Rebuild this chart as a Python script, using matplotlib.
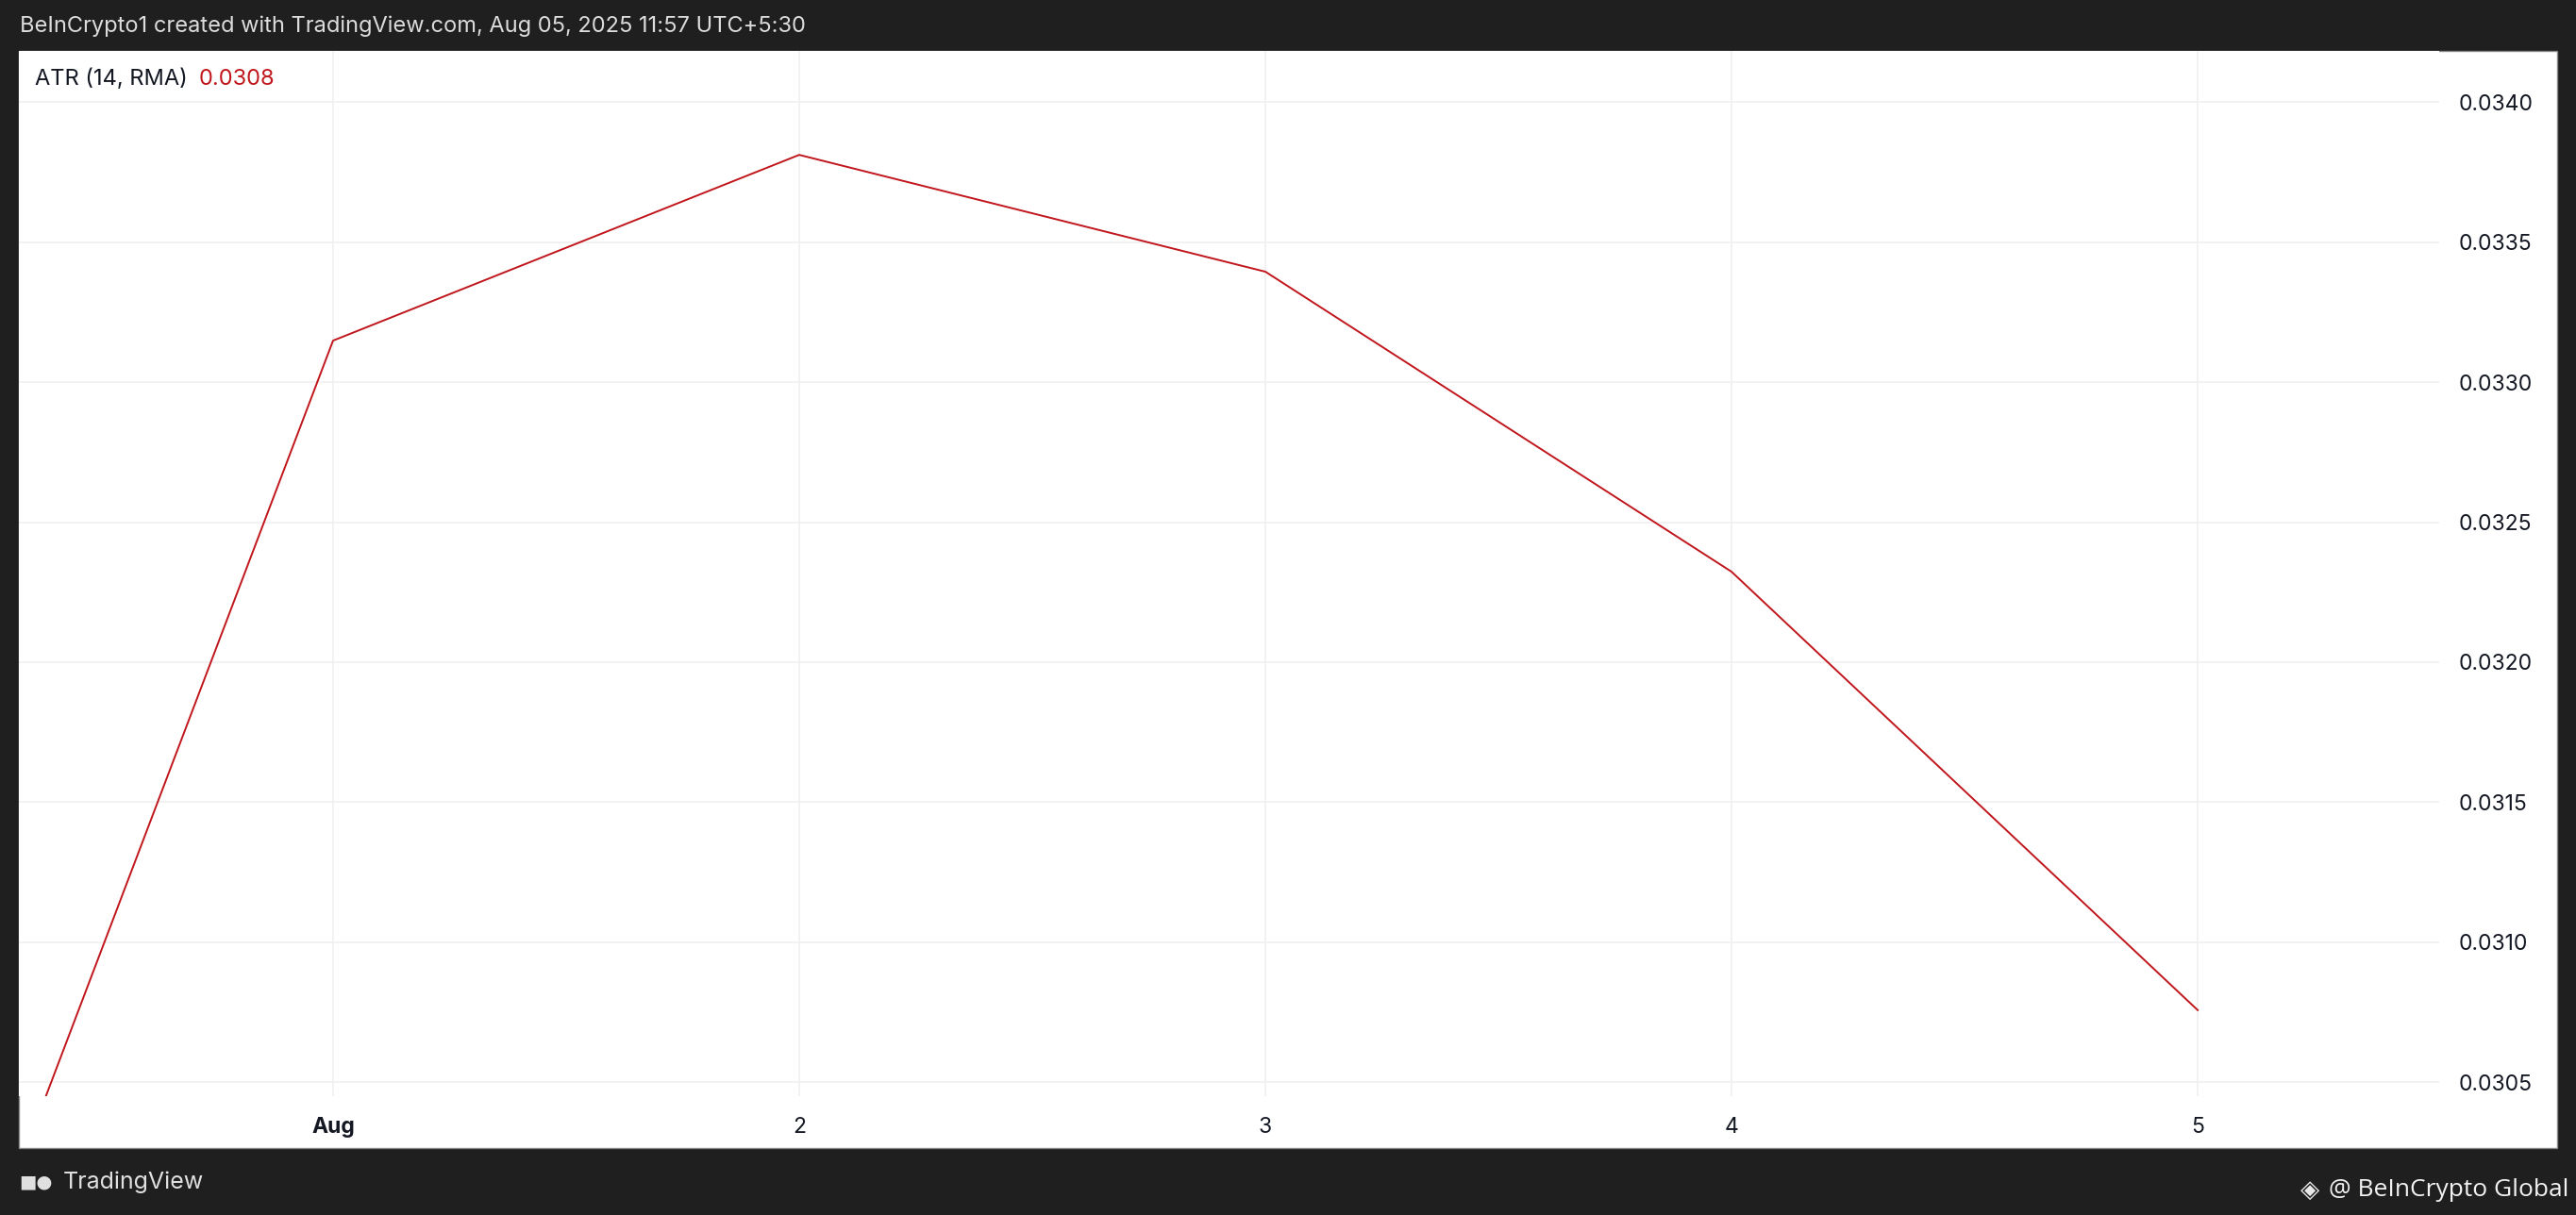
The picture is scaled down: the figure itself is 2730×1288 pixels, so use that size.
import numpy as np
import matplotlib.pyplot as plt
from matplotlib.patches import Rectangle

plt.rcParams['font.family'] = ['Inter', 'DejaVu Sans']

# ATR (14, RMA) daily values, Jul 31 .. Aug 5
days = [0, 1, 2, 3, 4, 5]
atr = [0.02877, 0.033148, 0.033811, 0.033394, 0.032323, 0.030758]
day_ticks = [1, 2, 3, 4, 5]
day_labels = ['Aug', '2', '3', '4', '5']
price_ticks = [0.0305, 0.0310, 0.0315, 0.0320, 0.0325, 0.0330, 0.0335, 0.0340]

W, H = 2730, 1288
bg = '#1f1f1f'
red = '#c0161c'
txt = '#131722'


def fx(x):
    return x / W


def fy(y):
    return 1 - y / H


fig = plt.figure(figsize=(W / 100, H / 100), dpi=100, facecolor=bg)

# white chart panel
fig.patches.append(Rectangle((fx(20), fy(1217)), fx(2710) - fx(20), fy(54) - fy(1217),
                             transform=fig.transFigure, facecolor='white',
                             edgecolor='#8a8a8a', linewidth=1, zorder=-5))

ax = fig.add_axes([fx(20), fy(1162), fx(2585) - fx(20), fy(54) - fy(1162)])
ax.set_zorder(2)
ax.set_facecolor('white')
ax.plot(days, atr, color=red, linewidth=1.4, solid_joinstyle='round')

ax.set_xlim(0.326, 5.518)
ax.set_ylim(0.030451, 0.034182)

ax.set_xticks(day_ticks)
ax.set_xticklabels(day_labels)
ax.get_xticklabels()[0].set_fontweight('bold')
ax.set_yticks(price_ticks)
ax.set_yticklabels([f'{v:.4f}' for v in price_ticks])
ax.yaxis.tick_right()
ax.tick_params(axis='both', length=0, colors=txt, labelsize=16.5)
ax.tick_params(axis='x', pad=16)
ax.tick_params(axis='y', pad=15)
ax.grid(True, color='#f0f0f0', linewidth=1.2)
ax.set_axisbelow(True)
for s in ax.spines.values():
    s.set_visible(False)

# header / footer
fig.text(fx(21), fy(28), 'BeInCrypto1 created with TradingView.com, Aug 05, 2025 11:57 UTC+5:30',
         color='#dcdcdc', fontsize=17, va='center', ha='left')
fig.text(fx(37), fy(84), 'ATR (14, RMA)', color=txt, fontsize=17, va='center', ha='left')
fig.text(fx(211), fy(84), f'{atr[-1]:.4f}', color=red, fontsize=17, va='center', ha='left')

fig.text(fx(20), fy(1253), '\u25a0\u25cf', color='#e0e0e0', fontsize=14, va='center', ha='left',
         fontweight='bold', family=['DejaVu Sans'])
fig.text(fx(67), fy(1253), 'TradingView', color='#e0e0e0', fontsize=18, va='center', ha='left')

fig.text(fx(2438), fy(1262), '\u25c8', color='#e8e8e8', fontsize=19, va='center', ha='left',
         family=['DejaVu Sans'])
fig.text(fx(2722), fy(1262), '@ BeInCrypto Global', color='#f2f2f2', fontsize=19, va='center',
         ha='right', family=['Open Sans', 'DejaVu Sans'])

fig.savefig('out.png', dpi=100, facecolor=bg)
